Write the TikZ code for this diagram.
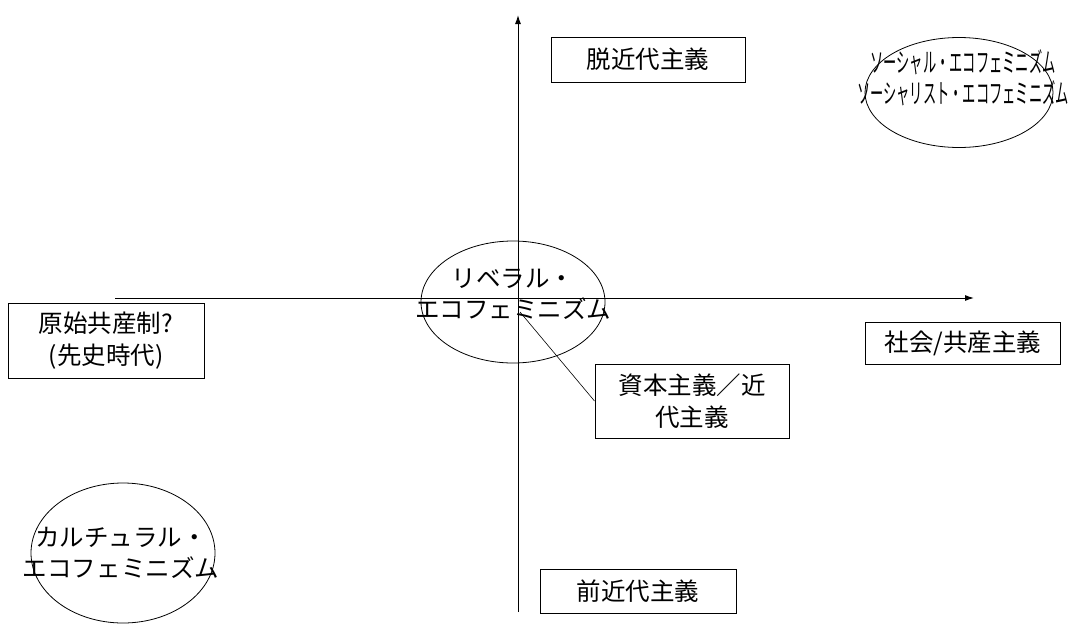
\documentclass[tikz,border=0pt]{standalone}
\usepackage{fontspec}
\usepackage{graphicx}
\newfontfamily\jp{Noto Sans CJK JP}
\usetikzlibrary{arrows.meta,shapes.geometric}
\tikzset{
  lbl/.style={font=\jp\fontsize{24.5}{31}\selectfont, align=center, inner sep=0pt},
  tbox/.style={draw, line width=1pt, inner sep=0pt, font=\jp\fontsize{24.5}{32}\selectfont, align=center},
  oval/.style={draw, ellipse, line width=0.8pt, inner sep=0pt},
  axis/.style={line width=1pt, -{Latex[length=9pt,width=6pt]}}
}
\begin{document}
\begin{tikzpicture}[x=1pt,y=-1pt]
\useasboundingbox (0,0) rectangle (1076,627);
% axes
\coordinate (vb) at (518,612);
\coordinate (vt) at (518,15);
\coordinate (hl) at (115,298);
\coordinate (hr) at (974,298);
\draw[axis] (vb) -- (vt);
\draw[axis] (hl) -- (hr);
% boxes
\node[tbox, minimum width=194, minimum height=45] (post) at (648,59.5) {脱近代主義};
\node[tbox, minimum width=194, minimum height=74] (cap) at (692,401) {資本主義／近\\代主義};
\node[tbox, minimum width=195, minimum height=42] (soc) at (963,343) {社会/共産主義};
\node[tbox, minimum width=196, minimum height=75] (prim) at (106,340.5) {原始共産制?\\(先史時代)};
\node[tbox, minimum width=196, minimum height=44] (pre) at (638,591) {前近代主義};
% ellipses
\node[oval, minimum width=188, minimum height=110] (soceco) at (959,92.5) {};
\node[lbl] (socecotext) at (963,78) {\scalebox{0.54}[1.1]{ソーシャル・エコフェミニズム}\\\scalebox{0.54}[1.1]{ソーシャリスト・エコフェミニズム}};
\node[oval, minimum width=184, minimum height=122] (lib) at (513,302) {};
\node[lbl] (libtext) at (513,294) {リベラル・\\エコフェミニズム};
\node[oval, minimum width=184, minimum height=140] (cult) at (123,553) {};
\node[lbl] (culttext) at (121,553) {カルチュラル・\\エコフェミニズム};
% connector
\coordinate (cs) at (520,312);
\draw[line width=0.6pt] (cs) -- (cap.west);
\end{tikzpicture}
\end{document}
